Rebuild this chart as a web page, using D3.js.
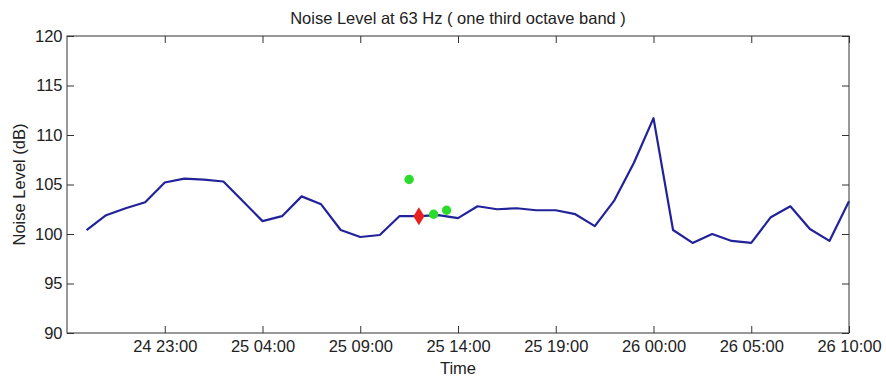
<!DOCTYPE html>
<html>
<head>
<meta charset="utf-8">
<script src="https://cdn.jsdelivr.net/npm/d3@7/dist/d3.min.js"></script>
<style>
  html, body { margin: 0; padding: 0; background: #fff; }
  svg { display: block; font-family: "Liberation Sans", Arial, sans-serif; }
</style>
</head>
<body>
<svg id="chart" width="886" height="379"></svg>
<script>
// Hourly 63 Hz one-third-octave band levels (dB)
const hours = [
  "24 19:00","24 20:00","24 21:00","24 22:00","24 23:00",
  "25 00:00","25 01:00","25 02:00","25 03:00","25 04:00","25 05:00",
  "25 06:00","25 07:00","25 08:00","25 09:00","25 10:00","25 11:00",
  "25 12:00","25 13:00","25 14:00","25 15:00","25 16:00","25 17:00",
  "25 18:00","25 19:00","25 20:00","25 21:00","25 22:00","25 23:00",
  "26 00:00","26 01:00","26 02:00","26 03:00","26 04:00","26 05:00",
  "26 06:00","26 07:00","26 08:00","26 09:00","26 10:00"
];
const levels = [
  100.4, 101.9, 102.6, 103.2, 105.2,
  105.6, 105.5, 105.3, 103.3, 101.3, 101.8,
  103.8, 103.0, 100.4, 99.7, 99.9, 101.8,
  101.8, 101.9, 101.6, 102.8, 102.5, 102.6,
  102.4, 102.4, 102.0, 100.8, 103.4, 107.2,
  111.7, 100.4, 99.1, 100.0, 99.3, 99.1,
  101.7, 102.8, 100.5, 99.3, 103.3
];

// Spot measurements
const spotTimes = ["25 11:30", "25 12:45", "25 13:25"];
const spotLevels = [105.5, 102.0, 102.4];
const refTimes = ["25 12:00"];
const refLevels = [101.8];

// Axis ticks
const xTickTimes = ["24 23:00","25 04:00","25 09:00","25 14:00","25 19:00","26 00:00","26 05:00","26 10:00"];
const yTicks = [90, 95, 100, 105, 110, 115, 120];
const xStart = "24 18:00";
const xEnd = "26 10:00";

const parse = d3.utcParse("%d %H:%M");
const fmt = d3.utcFormat("%d %H:%M");

const svg = d3.select("#chart");
const box = { left: 67, right: 849, top: 36, bottom: 333 };

const x = d3.scaleUtc()
  .domain([parse(xStart), parse(xEnd)])
  .range([box.left, box.right]);
const y = d3.scaleLinear()
  .domain([90, 120])
  .range([box.bottom, box.top]);

const axisColor = "#333";
const tickLen = 7;
const fontSize = 16.5;

// Frame
svg.append("rect")
  .attr("x", box.left).attr("y", box.top)
  .attr("width", box.right - box.left).attr("height", box.bottom - box.top)
  .attr("fill", "none").attr("stroke", axisColor).attr("stroke-width", 1);

const xTicks = xTickTimes.map(parse);

// Bottom axis with inward ticks
const gx = svg.append("g")
  .attr("transform", `translate(0,${box.bottom})`)
  .call(d3.axisBottom(x).tickValues(xTicks).tickFormat(fmt).tickSize(-tickLen).tickPadding(7.5));
// Top ticks
const gxt = svg.append("g")
  .attr("transform", `translate(0,${box.top})`)
  .call(d3.axisTop(x).tickValues(xTicks).tickFormat("").tickSize(-tickLen));
// Left axis
const gy = svg.append("g")
  .attr("transform", `translate(${box.left},0)`)
  .call(d3.axisLeft(y).tickValues(yTicks).tickSize(-tickLen).tickPadding(4.5));
// Right ticks
const gyr = svg.append("g")
  .attr("transform", `translate(${box.right},0)`)
  .call(d3.axisRight(y).tickValues(yTicks).tickFormat("").tickSize(-tickLen));

[gx, gxt, gy, gyr].forEach(g => {
  g.select(".domain").remove();
  g.selectAll(".tick line").attr("stroke", axisColor);
  g.selectAll("text")
    .attr("fill", "#222")
    .style("font-size", fontSize + "px")
    .style("font-family", "\"Liberation Sans\", Arial, sans-serif");
});

// Level series
const series = hours.map((h, i) => ({ t: parse(h), v: levels[i] }));
svg.append("path")
  .datum(series)
  .attr("fill", "none")
  .attr("stroke", "#22229a")
  .attr("stroke-width", 2.2)
  .attr("stroke-linejoin", "round")
  .attr("d", d3.line().x(d => x(d.t)).y(d => y(d.v)));

// Reference marker (red diamond)
const refs = refTimes.map((t, i) => ({ t: parse(t), v: refLevels[i] }));
svg.selectAll("path.ref")
  .data(refs)
  .join("path")
  .attr("class", "ref")
  .attr("fill", "#e82020")
  .attr("d", d => {
    const cx = x(d.t), cy = y(d.v), hw = 5.5, hh = 9;
    return `M${cx},${cy - hh}L${cx + hw},${cy}L${cx},${cy + hh}L${cx - hw},${cy}Z`;
  });

// Spot measurements (green dots)
const spots = spotTimes.map((t, i) => ({ t: parse(t), v: spotLevels[i] }));
svg.selectAll("circle.spot")
  .data(spots)
  .join("circle")
  .attr("class", "spot")
  .attr("cx", d => x(d.t))
  .attr("cy", d => y(d.v))
  .attr("r", 4.7)
  .attr("fill", "#2cdc2c");

// Titles
svg.append("text")
  .attr("x", (box.left + box.right) / 2)
  .attr("y", 24)
  .attr("text-anchor", "middle")
  .attr("fill", "#222")
  .style("font-size", fontSize + "px")
  .text("Noise Level at 63 Hz ( one third octave band )");

svg.append("text")
  .attr("x", (box.left + box.right) / 2)
  .attr("y", 374)
  .attr("text-anchor", "middle")
  .attr("fill", "#222")
  .style("font-size", fontSize + "px")
  .text("Time");

svg.append("text")
  .attr("transform", `translate(25,${(box.top + box.bottom) / 2}) rotate(-90)`)
  .attr("text-anchor", "middle")
  .attr("fill", "#222")
  .style("font-size", fontSize + "px")
  .text("Noise Level (dB)");
</script>
</body>
</html>
